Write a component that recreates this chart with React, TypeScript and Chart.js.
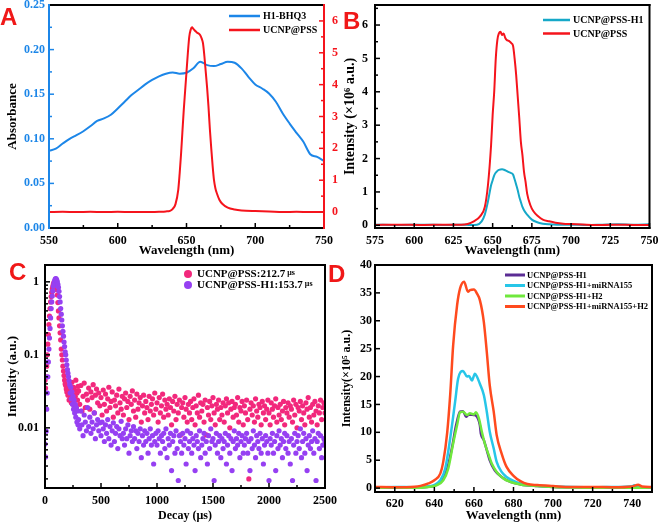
import React, { useEffect, useRef } from "react";
import { Chart, registerables } from "chart.js";
Chart.register(...registerables);

const SERIF = '"Liberation Serif", "Times New Roman", serif';
const SANS = '"Liberation Sans", Arial, sans-serif';

// ---------- Panel A ----------
const absWavelength = [550,555,560,565,570,575,580,585,590,595,600,605,610,615,620,625,630,635,640,645,650,655,660,665,670,675,680,685,690,695,700,705,710,715,720,725,730,735,740,745,750];
const absH1BHQ3 = [.0865,.089,.0947,.100,.104,.1085,.114,.120,.1228,.127,.134,.1415,.149,.155,.161,.166,.170,.173,.1744,.173,.174,.179,.1864,.1826,.1815,.1838,.1864,.1853,.179,.1695,.161,.1564,.1508,.1415,.1284,.1171,.1067,.0966,.0827,.0797,.0752];
const emWavelengthA = [550,560,570,580,590,600,610,620,630,635,638,640,642,644,645,646,647,648,649,650,651,652,653,654,655,656,657,658,659,660,661,662,663,664,665,666,667,668,669,670,671,672,674,676,680,685,690,700,710,720,730,740,750];
const emUcnpPssA = [0,.01,0,.01,0,.01,0,0,.01,.02,.04,.1,.25,.7,1.2,1.8,2.5,3.2,3.8,4.4,5.0,5.5,5.72,5.8,5.75,5.7,5.66,5.62,5.6,5.55,5.45,5.3,4.9,4.4,3.9,3.3,2.6,2.0,1.45,1.0,.75,.6,.38,.26,.14,.08,.05,.03,.02,0,.01,0,0];
const absTicks = [0, 0.05, 0.1, 0.15, 0.2, 0.25];
const emTicksA = [0, 1, 2, 3, 4, 5, 6];
const wlTicksA = [550, 600, 650, 700, 750];

// ---------- Panel B ----------
const emWavelengthB = [575,590,605,620,630,634,638,642,645,647,649,650,651,652,653,654,655,656,657,658,659,660,661,662,663,664,665,666,667,668,669,670,671,672,674,676,679,682,686,690,695,700,710,720,730,740,750];
const emUcnpPssB = [.01,.02,.01,.02,.02,.04,.12,.27,.55,1.2,2.4,3.3,4.0,5.0,5.55,5.75,5.8,5.7,5.75,5.62,5.55,5.53,5.5,5.45,5.38,5.0,4.5,3.85,3.2,2.5,2.1,1.6,1.3,.95,.61,.42,.27,.17,.12,.08,.05,.04,.02,.01,.02,.01,.01];
const tealWavelengthB = [575,590,605,620,630,636,640,643,645,647,649,650,651,652,653,654,656,658,660,662,663,664,665,666,667,668,669,670,672,675,678,682,686,691,700,710,720,730,740,750];
const tealUcnpPssH1 = [.02,.01,.02,.01,.02,.01,.02,.12,.32,.71,1.2,1.35,1.5,1.58,1.63,1.66,1.68,1.65,1.6,1.56,1.52,1.38,1.22,1.05,.85,.7,.55,.45,.32,.17,.1,.05,.03,.02,.02,.01,.02,.03,.02,.03];
const intTicksB = [0, 1, 2, 3, 4, 5, 6];
const wlTicksB = [575, 600, 625, 650, 675, 700, 725, 750];

// ---------- Panel C (decay) ----------
const decayPeakStart = 0;
const decayPeakStep = 5;
const decayTailStart = 300;
const decayTailStep = 10;
const pinkPeak = [.045,.035,.05,.07,.1,.14,.19,.26,.34,.43,.53,.63,.72,.8,.87,.93,.98,1.0,1.0,.96,.88,.78,.66,.52,.4,.32,.25,.2,.16,.12,.1,.085,.07,.06,.052,.045,.04,.038,.034,.031,.035,.028,.033,.024,.038,.027,.031,.022,.042,.029,.025,.036,.02,.033,.027,.045,.019,.03,.024,.037];
const purplePeak = [.006,.004,.009,.018,.03,.05,.08,.12,.17,.23,.32,.43,.53,.64,.75,.87,.95,1.02,1.08,1.11,1.1,1.06,1.0,.92,.84,.74,.63,.53,.43,.36,.3,.25,.21,.18,.15,.13,.11,.1,.085,.073,.063,.056,.05,.044,.039,.03,.036,.025,.031,.021,.027,.018,.024,.016,.021,.014,.019,.012,.017,.011];
const pinkTail = [
  .032,.021,.038,.017,.027,.041,.019,.029,.024,.035,
  .018,.031,.026,.039,.016,.028,.034,.022,.030,.020,
  .026,.015,.033,.021,.029,.017,.025,.036,.019,.023,
  .031,.014,.024,.020,.028,.016,.034,.022,.018,.027,
  .015,.025,.030,.019,.023,.013,.027,.021,.032,.017,
  .024,.014,.029,.018,.022,.026,.012,.020,.028,.016,
  .023,.019,.013,.027,.017,.021,.025,.015,.030,.018,
  .022,.012,.026,.016,.020,.029,.014,.024,.018,.021,
  .015,.025,.019,.011,.023,.017,.027,.013,.021,.016,
  .024,.008,.019,.022,.014,.026,.018,.012,.021,.016,
  .023,.013,.019,.025,.011,.020,.016,.028,.014,.022,
  .017,.021,.012,.024,.008,.019,.015,.023,.013,.020,
  .026,.016,.011,.021,.018,.024,.013,.019,.015,.022,
  .012,.020,.025,.016,.022,.010,.018,.023,.014,.019,
  .021,.015,.026,.012,.019,.017,.023,.011,.020,.016,
  .024,.013,.002,.018,.022,.015,.020,.012,.025,.017,
  .014,.021,.019,.011,.023,.016,.020,.013,.018,.024,
  .016,.011,.022,.018,.014,.020,.025,.012,.019,.015,
  .021,.013,.017,.023,.011,.019,.016,.022,.014,.020,
  .018,.012,.024,.015,.021,.010,.019,.017,.023,.013,
  .020,.016,.011,.022,.018,.026,.014,.019,.012,.021,
  .015,.023,.017,.011,.020,.016,.024,.013,.019,.022,
  .016
];
const purpleTail = [
  .013,.0097,.017,.011,.0078,.015,.012,.0091,.019,.0104,
  .014,.0084,.012,.0097,.016,.0071,.011,.013,.0091,.0117,
  .0078,.012,.0097,.0065,.011,.0084,.013,.0071,.0104,.0058,
  .0091,.0117,.0065,.0084,.0104,.0052,.0097,.0078,.0123,.0071,
  .0084,.0058,.0097,.0071,.011,.0045,.0078,.0091,.0065,.0104,
  .0071,.0091,.0052,.0084,.0065,.0097,.0039,.0078,.0058,.0091,
  .0065,.0084,.0045,.0071,.0097,.0058,.0078,.0032,.0065,.0084,
  .0058,.0091,.0071,.0045,.0078,.0065,.0084,.0052,.0097,.0039,
  .0071,.0058,.0084,.0026,.0065,.0078,.0045,.0091,.0052,.0019,
  .0078,.0065,.0045,.0084,.0058,.0071,.0032,.0091,.0052,.0065,
  .0084,.0045,.0071,.0058,.0026,.0078,.0065,.0052,.0091,.0039,
  .0058,.0071,.0084,.0045,.0065,.0032,.0078,.0052,.0097,.0065,
  .0071,.0019,.0058,.0084,.0045,.0065,.0078,.0039,.0071,.0052,
  .0065,.0084,.0032,.0058,.0078,.0045,.0071,.0026,.0065,.0091,
  .0052,.0071,.0058,.0084,.0039,.0065,.0078,.0045,.0058,.0071,
  .0084,.0045,.0065,.0026,.0071,.0052,.0091,.0058,.0039,.0078,
  .0065,.0052,.0084,.0045,.0071,.0032,.0058,.0078,.0065,.0045,
  .0019,.0071,.0058,.0084,.0045,.0065,.0026,.0078,.0052,.0091,
  .0058,.0071,.0039,.0065,.0084,.0052,.0078,.0045,.0065,.0032,
  .0071,.0019,.0058,.0084,.0045,.0065,.0078,.0052,.0097,.0039,
  .0065,.0084,.0045,.0071,.0026,.0058,.0078,.0052,.0065,.0091,
  .0045,.0071,.0019,.0065,.0084,.0052,.0078,.0039,.0058,.0071,
  .0065
];
const decayTicks = [0, 500, 1000, 1500, 2000, 2500];
const logTicks = [0.01, 0.1, 1];

// ---------- Panel D ----------
const dWlPurple = [610,620,630,636,640.5,643.5,646.5,649,651,653,654.5,656,657.5,660,661,663,663.5,665,666.5,668,670.5,674,678.5,683.5,692,700,710,720,730,740,750];
const dPurple = [.1,.05,.1,.2,.5,1.4,3.5,7.4,11.3,13.7,13.8,12.8,13.2,13.1,13,11.3,9.8,8.6,6.8,5,3.2,2,1.1,.66,.36,.2,.15,.1,.05,.15,.1];
const dWlCyan = [610,620,630,636,639.5,643,645.5,648,650.5,652,654.5,656.5,657.5,659,660.5,661.5,663,665,666.5,668,670,671.5,674,676.5,680,685,692,700,710,720,730,740,741,742,750];
const dCyan = [.1,.2,.15,.3,.5,1.4,3.5,8.9,15.5,19.6,21,20,20.1,19.3,20.5,20,18.7,16.7,13.7,10.1,7.1,4.7,2.9,2,1.3,.7,.4,.3,.2,.15,.2,.35,.5,.2,.1];
const dWlGreen = [610,620,630,637,641,644.5,647,649.5,651.5,653,654.5,656.5,658,660,661,662.5,664,665.5,667.5,669,671.5,675,678.5,683.5,692,700,710,720,730,740,750];
const dGreen = [.05,.1,.05,.2,.5,1.4,3.5,8,11.3,13.6,13.7,13.1,13.4,13.2,13.6,12.5,10.1,8,5.9,4.4,2.9,1.7,1.1,.66,.36,.2,.1,.05,.1,.05,.1];
const dWlOrange = [610,620,630,633,637,640,643,644.5,646.5,648,649.5,651.5,653,655,657,658,660,661.5,663,665,666.5,668,670,671.5,674,676.5,680,683.5,687,692,700,709,720,730,740,743,745,750];
const dOrange = [.2,.15,.25,.4,.84,1.4,2.6,4.7,10,16.7,25.6,32.8,35.8,37,35.2,35.5,35.6,34.9,33.7,29.8,24.4,18.4,13.7,9.5,6.2,3.8,2.2,1.25,.72,.54,.36,.18,.2,.15,.3,.6,.3,.2];
const intTicksD = [0, 5, 10, 15, 20, 25, 30, 35, 40];
const wlTicksD = [620, 640, 660, 680, 700, 720, 740];

// ---------- colours ----------
const BLUE = "#1c86e8";
const RED = "#f5141c";
const TEAL = "#16a8c8";
const PINK = "#f2287c";
const VIOLET = "#9640f2";
const D_PURPLE = "#5b2c94";
const D_CYAN = "#27c6e8";
const D_GREEN = "#6fe83c";
const D_ORANGE = "#ff4a1e";

const fnt = (size: number) => ({ family: SERIF, size, weight: "bold" as const });
const xy = (xs: number[], ys: number[]) => xs.map((x, i) => ({ x, y: ys[i] }));
const fixY = (w: number) => (s: any) => { s.width = w; s.paddingTop = 0; s.paddingBottom = 0; };
const fixX = (h: number) => (s: any) => { s.height = h; s.paddingLeft = 0; s.paddingRight = 0; };
const setTicks = (vals: number[]) => (s: any) => { s.ticks = vals.map((value) => ({ value })); };

const frameTicks = {
  id: "frameTicks",
  afterDatasetsDraw(chart: any, _args: any, opts: any) {
    const { ctx, chartArea } = chart;
    const { left, right, top, bottom } = chartArea;
    ctx.save();
    const axes = opts.axes || [];
    for (let a = 0; a < axes.length; a++) {
      const ax = axes[a];
      const s = chart.scales[ax.id];
      if (!s) continue;
      const majors: number[] = s.ticks.map((t: any) => t.value);
      const minors: number[] = [];
      if (s.type === "logarithmic") {
        const k0 = Math.floor(Math.log10(s.min));
        const k1 = Math.ceil(Math.log10(s.max));
        for (let k = k0; k <= k1; k++) {
          for (let m = 2; m <= 9; m++) {
            const v = m * Math.pow(10, k);
            if (v >= s.min && v <= s.max) minors.push(v);
          }
        }
      } else if (ax.minor > 1 && majors.length > 1) {
        const step = (majors[1] - majors[0]) / ax.minor;
        for (let i = -200; i <= 200; i++) {
          const v = majors[0] + i * step;
          if (v < s.min - step * 0.01 || v > s.max + step * 0.01) continue;
          if (majors.some((m) => Math.abs(m - v) < step * 0.01)) continue;
          minors.push(v);
        }
      }
      ctx.strokeStyle = ax.color;
      ctx.lineWidth = 1.5;
      const draw = (v: number, len: number) => {
        const p = s.getPixelForValue(v);
        ctx.beginPath();
        if (s.position === "left") { ctx.moveTo(left, p); ctx.lineTo(left + len, p); }
        else if (s.position === "right") { ctx.moveTo(right, p); ctx.lineTo(right - len, p); }
        else if (s.position === "bottom") { ctx.moveTo(p, bottom); ctx.lineTo(p, bottom - len); }
        else { ctx.moveTo(p, top); ctx.lineTo(p, top + len); }
        ctx.stroke();
      };
      majors.forEach((v) => draw(v, 5));
      minors.forEach((v) => draw(v, 3));
    }
    const sides = opts.sides || {};
    ctx.lineWidth = 2;
    ctx.lineCap = "square";
    const seg = (c: string, x1: number, y1: number, x2: number, y2: number) => {
      ctx.strokeStyle = c || "#000";
      ctx.beginPath(); ctx.moveTo(x1, y1); ctx.lineTo(x2, y2); ctx.stroke();
    };
    seg(sides.top, left, top, right, top);
    seg(sides.bottom, left, bottom, right, bottom);
    seg(sides.left, left, top, left, bottom);
    seg(sides.right, right, top, right, bottom);
    ctx.restore();
  },
};

const insetLegend = {
  id: "insetLegend",
  afterDraw(chart: any, _args: any, o: any) {
    if (!o || !o.items) return;
    const ctx = chart.ctx;
    ctx.save();
    for (let i = 0; i < o.items.length; i++) {
      const it = o.items[i];
      const y = o.y + i * o.rowH;
      if (o.marker === "dot") {
        ctx.fillStyle = it.color;
        ctx.beginPath();
        ctx.arc(o.x + o.lineLen / 2, y, o.dot, 0, Math.PI * 2);
        ctx.fill();
      } else {
        ctx.strokeStyle = it.color;
        ctx.lineWidth = o.lineWidth;
        ctx.beginPath();
        ctx.moveTo(o.x, y);
        ctx.lineTo(o.x + o.lineLen, y);
        ctx.stroke();
      }
      ctx.fillStyle = "#000";
      ctx.font = `bold ${o.size}px ${SERIF}`;
      ctx.textBaseline = "middle";
      ctx.textAlign = "left";
      const tx = o.x + o.lineLen + o.gap;
      ctx.fillText(it.label, tx, y + 0.5);
      if (it.suffix) {
        const w = ctx.measureText(it.label).width;
        ctx.font = `bold ${o.suffixSize}px ${SERIF}`;
        ctx.fillText(it.suffix, tx + w + 2, y - 1);
      }
    }
    ctx.restore();
  },
};

const baseOpts = {
  responsive: false,
  animation: false as const,
  devicePixelRatio: 1,
  events: [] as any[],
};

const noGrid = { display: false, drawTicks: false };
const noBorder = { display: false };

function makeA(): any {
  return {
    type: "line",
    data: {
      datasets: [
        { label: "H1-BHQ3", data: xy(absWavelength, absH1BHQ3), borderColor: BLUE, borderWidth: 2, pointRadius: 0, yAxisID: "y", cubicInterpolationMode: "monotone", order: 1 },
        { label: "UCNP@PSS", data: xy(emWavelengthA, emUcnpPssA), borderColor: RED, borderWidth: 2, pointRadius: 0, yAxisID: "y2", cubicInterpolationMode: "monotone", order: 0 },
      ],
    },
    options: {
      ...baseOpts,
      layout: { padding: { top: 5, left: 0, right: 0, bottom: 0 } },
      scales: {
        x: {
          type: "linear", min: 550, max: 750, bounds: "data",
          afterBuildTicks: setTicks(wlTicksA), afterFit: fixX(32),
          grid: noGrid, border: noBorder,
          ticks: { color: "#000", font: fnt(12), padding: 6, autoSkip: false, maxRotation: 0, callback: (v: any) => String(v) },
          title: { display: true, text: "Wavelength (nm)", color: "#000", font: fnt(13), padding: { top: 0, bottom: 2 } },
        },
        y: {
          type: "linear", position: "left", min: 0, max: 0.25, bounds: "data",
          afterBuildTicks: setTicks(absTicks), afterFit: fixY(49),
          grid: noGrid, border: noBorder,
          ticks: { color: BLUE, font: fnt(12), padding: 4, autoSkip: false, callback: (v: any) => Number(v).toFixed(2) },
          title: { display: true, text: "Absorbance", color: "#000", font: fnt(13), padding: { top: 5, bottom: 0 } },
        },
        y2: {
          type: "linear", position: "right", min: -0.5, max: 6.5, bounds: "data",
          afterBuildTicks: setTicks(emTicksA), afterFit: fixY(21),
          grid: noGrid, border: noBorder,
          ticks: { color: RED, font: fnt(12), padding: 8, autoSkip: false, callback: (v: any) => String(v) },
        },
      },
      plugins: {
        legend: { display: false },
        tooltip: { enabled: false },
        frameTicks: {
          sides: { top: "#000", bottom: "#000", left: BLUE, right: RED },
          axes: [{ id: "x", minor: 2, color: "#000" }, { id: "y", minor: 2, color: BLUE }, { id: "y2", minor: 2, color: RED }],
        },
        insetLegend: {
          x: 229, y: 16, rowH: 14, lineLen: 31, gap: 3, size: 10, lineWidth: 2.5,
          items: [{ label: "H1-BHQ3", color: BLUE }, { label: "UCNP@PSS", color: RED }],
        },
      },
    },
    plugins: [frameTicks, insetLegend],
  };
}

function makeB(): any {
  return {
    type: "line",
    data: {
      datasets: [
        { label: "UCNP@PSS-H1", data: xy(tealWavelengthB, tealUcnpPssH1), borderColor: TEAL, borderWidth: 2, pointRadius: 0, cubicInterpolationMode: "monotone", order: 1 },
        { label: "UCNP@PSS", data: xy(emWavelengthB, emUcnpPssB), borderColor: RED, borderWidth: 2, pointRadius: 0, cubicInterpolationMode: "monotone", order: 0 },
      ],
    },
    options: {
      ...baseOpts,
      layout: { padding: { top: 5, left: 0, right: 9.5, bottom: 0 } },
      scales: {
        x: {
          type: "linear", min: 575, max: 750, bounds: "data",
          afterBuildTicks: setTicks(wlTicksB), afterFit: fixX(32),
          grid: noGrid, border: noBorder,
          ticks: { color: "#000", font: fnt(12), padding: 6, autoSkip: false, maxRotation: 0, callback: (v: any) => String(v) },
          title: { display: true, text: "Wavelength (nm)", color: "#000", font: fnt(13), padding: { top: 0, bottom: 2 } },
        },
        y: {
          type: "linear", position: "left", min: -0.08, max: 6.6, bounds: "data",
          afterBuildTicks: setTicks(intTicksB), afterFit: fixY(45),
          grid: noGrid, border: noBorder,
          ticks: { color: "#000", font: fnt(12), padding: 7, autoSkip: false, callback: (v: any) => String(v) },
          title: { display: true, text: "Intensity (×10⁶ a.u.)", color: "#000", font: fnt(14), padding: { top: 12, bottom: 0 } },
        },
      },
      plugins: {
        legend: { display: false },
        tooltip: { enabled: false },
        frameTicks: {
          sides: { top: "#000", bottom: "#000", left: "#000", right: "#000" },
          axes: [{ id: "x", minor: 2, color: "#000" }, { id: "y", minor: 2, color: "#000" }],
        },
        insetLegend: {
          x: 213, y: 20, rowH: 13.5, lineLen: 27, gap: 3, size: 10, lineWidth: 2.5,
          items: [{ label: "UCNP@PSS-H1", color: TEAL }, { label: "UCNP@PSS", color: RED }],
        },
      },
    },
    plugins: [frameTicks, insetLegend],
  };
}

function decayPoints(peak: number[], tail: number[]) {
  const pts = peak.map((y, i) => ({ x: decayPeakStart + i * decayPeakStep, y }));
  tail.forEach((y, i) => pts.push({ x: decayTailStart + i * decayTailStep, y }));
  return pts;
}

function makeC(): any {
  return {
    type: "scatter",
    data: {
      datasets: [
        { label: "UCNP@PSS:212.7 μs", data: decayPoints(pinkPeak, pinkTail), pointBackgroundColor: PINK, pointBorderColor: PINK, backgroundColor: PINK, pointRadius: 2.6, pointBorderWidth: 0, order: 1 },
        { label: "UCNP@PSS-H1:153.7 μs", data: decayPoints(purplePeak, purpleTail), pointBackgroundColor: VIOLET, pointBorderColor: VIOLET, backgroundColor: VIOLET, pointRadius: 2.6, pointBorderWidth: 0, order: 0 },
      ],
    },
    options: {
      ...baseOpts,
      layout: { padding: { top: 5, left: 0, right: 20, bottom: 0 } },
      scales: {
        x: {
          type: "linear", min: 0, max: 2500, bounds: "data",
          afterBuildTicks: setTicks(decayTicks), afterFit: fixX(35),
          grid: noGrid, border: noBorder,
          ticks: { color: "#000", font: fnt(12), padding: 6, autoSkip: false, maxRotation: 0, callback: (v: any) => String(v) },
          title: { display: true, text: "Decay (μs)", color: "#000", font: fnt(12), padding: { top: 0, bottom: 0 } },
        },
        y: {
          type: "logarithmic", position: "left", min: 0.0015, max: 1.7, bounds: "data",
          afterBuildTicks: setTicks(logTicks), afterFit: fixY(45),
          grid: noGrid, border: noBorder,
          ticks: { color: "#000", font: fnt(12), padding: 6, autoSkip: false, callback: (v: any) => String(v) },
          title: { display: true, text: "Intensity (a.u.)", color: "#000", font: fnt(13), padding: { top: 5, bottom: 0 } },
        },
      },
      plugins: {
        legend: { display: false },
        tooltip: { enabled: false },
        frameTicks: {
          sides: { top: "#000", bottom: "#000", left: "#000", right: "#000" },
          axes: [{ id: "x", minor: 2, color: "#000" }, { id: "y", minor: 1, color: "#000" }],
        },
        insetLegend: {
          marker: "dot", dot: 4, x: 184, y: 14, rowH: 11, lineLen: 8, gap: 5, size: 11, suffixSize: 8,
          items: [{ label: "UCNP@PSS:212.7", suffix: "μs", color: PINK }, { label: "UCNP@PSS-H1:153.7", suffix: "μs", color: VIOLET }],
        },
      },
    },
    plugins: [frameTicks, insetLegend],
  };
}

function makeD(): any {
  const line = (label: string, xs: number[], ys: number[], color: string, order: number) => ({
    label, data: xy(xs, ys), borderColor: color, borderWidth: 2.5, pointRadius: 0, cubicInterpolationMode: "monotone", order,
  });
  return {
    type: "line",
    data: {
      datasets: [
        line("UCNP@PSS-H1", dWlPurple, dPurple, D_PURPLE, 3),
        line("UCNP@PSS-H1+miRNA155", dWlCyan, dCyan, D_CYAN, 2),
        line("UCNP@PSS-H1+H2", dWlGreen, dGreen, D_GREEN, 1),
        line("UCNP@PSS-H1+miRNA155+H2", dWlOrange, dOrange, D_ORANGE, 0),
      ],
    },
    options: {
      ...baseOpts,
      layout: { padding: { top: 5, left: 0, right: 7, bottom: 0 } },
      scales: {
        x: {
          type: "linear", min: 610, max: 750, bounds: "data",
          afterBuildTicks: setTicks(wlTicksD), afterFit: fixX(31),
          grid: noGrid, border: noBorder,
          ticks: { color: "#000", font: fnt(12), padding: 5, autoSkip: false, maxRotation: 0, callback: (v: any) => String(v) },
          title: { display: true, text: "Wavelength (nm)", color: "#000", font: fnt(13), padding: { top: 0, bottom: 0 } },
        },
        y: {
          type: "linear", position: "left", min: -0.7, max: 40, bounds: "data",
          afterBuildTicks: setTicks(intTicksD), afterFit: fixY(45),
          grid: noGrid, border: noBorder,
          ticks: { color: "#000", font: fnt(12), padding: 3, autoSkip: false, callback: (v: any) => String(v) },
          title: { display: true, text: "Intensity(×10⁵ a.u.)", color: "#000", font: fnt(12), padding: { top: 10, bottom: 0 } },
        },
      },
      plugins: {
        legend: { display: false },
        tooltip: { enabled: false },
        frameTicks: {
          sides: { top: "#000", bottom: "#000", left: "#000", right: "#000" },
          axes: [{ id: "x", minor: 2, color: "#000" }, { id: "y", minor: 1, color: "#000" }],
        },
        insetLegend: {
          x: 175, y: 15, rowH: 10.5, lineLen: 20, gap: 2, size: 8.5, lineWidth: 3,
          items: [
            { label: "UCNP@PSS-H1", color: D_PURPLE },
            { label: "UCNP@PSS-H1+miRNA155", color: D_CYAN },
            { label: "UCNP@PSS-H1+H2", color: D_GREEN },
            { label: "UCNP@PSS-H1+miRNA155+H2", color: D_ORANGE },
          ],
        },
      },
    },
    plugins: [frameTicks, insetLegend],
  };
}

function ChartCanvas({ make, left, top, width, height }: { make: () => any; left: number; top: number; width: number; height: number }) {
  const ref = useRef<HTMLCanvasElement | null>(null);
  useEffect(() => {
    const chart = new Chart(ref.current as HTMLCanvasElement, make());
    return () => chart.destroy();
  }, [make]);
  return <canvas ref={ref} width={width} height={height} style={{ position: "absolute", left, top, width, height }} />;
}

const letterStyle = (left: number, top: number): React.CSSProperties => ({
  position: "absolute", left, top, font: `bold 24px ${SANS}`, lineHeight: "24px", color: "#f01818",
});

export default function App() {
  return (
    <div style={{ position: "fixed", left: 0, top: 0, width: 659, height: 523, background: "#fff", overflow: "hidden" }}>
      <ChartCanvas make={makeA} left={0} top={0} width={345} height={260} />
      <ChartCanvas make={makeB} left={330} top={0} width={329} height={260} />
      <ChartCanvas make={makeC} left={0} top={260} width={345} height={263} />
      <ChartCanvas make={makeD} left={330} top={260} width={329} height={263} />
      <div style={letterStyle(0, 5)}>A</div>
      <div style={letterStyle(343, 9)}>B</div>
      <div style={letterStyle(9, 260)}>C</div>
      <div style={letterStyle(328, 262)}>D</div>
    </div>
  );
}
